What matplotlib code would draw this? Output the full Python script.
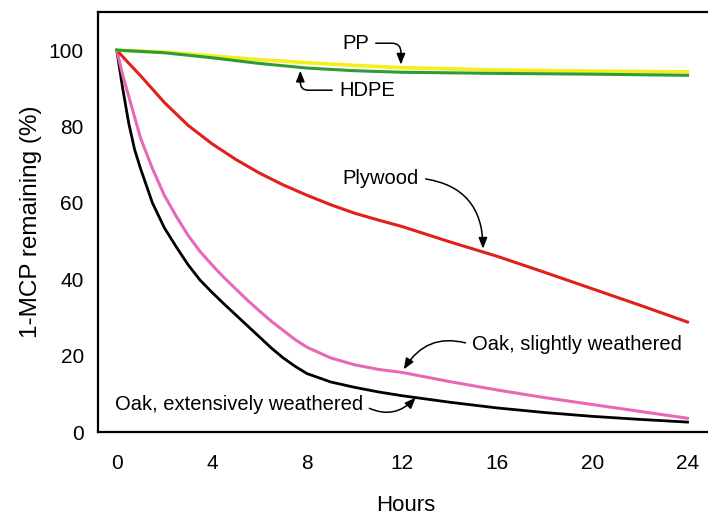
import numpy as np
import matplotlib.pyplot as plt

plt.rcParams['font.family'] = ['Liberation Sans', 'DejaVu Sans']

# hours and % 1-MCP remaining
hours_pe = [0, 2, 4, 6, 8, 10, 12, 16, 20, 24]
pp = [100, 99.5, 98.5, 97.5, 96.7, 96.0, 95.4, 94.8, 94.5, 94.3]
hdpe = [100, 99.3, 98.0, 96.5, 95.3, 94.6, 94.2, 93.9, 93.7, 93.4]

hours_ply = [0, 0.5, 1, 2, 3, 4, 5, 6, 7, 8, 9, 10, 11, 12, 14, 16, 18, 20, 22, 24]
plywood = [100, 96.6, 93.3, 86.3, 80.3, 75.5, 71.4, 67.8, 64.7, 62.0, 59.5, 57.3,
           55.5, 53.8, 49.8, 46.0, 41.8, 37.5, 33.2, 28.8]

hours_oak = [0, 0.25, 0.5, 0.75, 1, 1.5, 2, 2.5, 3, 3.5, 4, 4.5, 5, 5.5, 6, 6.5, 7, 7.5,
             8, 9, 10, 11, 12, 14, 16, 18, 20, 22, 24]
oak_slight = [100, 93.5, 88, 82.5, 77, 69, 62, 56.5, 51.5, 47.3, 43.8, 40.5, 37.5, 34.5,
              31.7, 29.0, 26.6, 24.2, 22.2, 19.4, 17.6, 16.4, 15.6, 13.2, 11.0, 9.0,
              7.2, 5.4, 3.6]
oak_ext = [100, 90, 81, 74, 69, 60, 53.5, 48.5, 43.8, 39.8, 36.6, 33.6, 30.7, 27.8,
           24.9, 22.0, 19.4, 17.2, 15.3, 13.1, 11.7, 10.5, 9.5, 7.8, 6.3, 5.1, 4.1,
           3.3, 2.6]

xticks = [0, 4, 8, 12, 16, 20, 24]
yticks = [0, 20, 40, 60, 80, 100]

fig = plt.figure(figsize=(7.08, 5.18), dpi=100)
ax = fig.add_axes([0.138, 0.166, 0.87, 0.811])

ax.plot(hours_oak, oak_ext, color='black', lw=2)
ax.plot(hours_oak, oak_slight, color='#e868b8', lw=2.2)
ax.plot(hours_ply, plywood, color='#e0201b', lw=2.2)
ax.plot(hours_pe, pp, color='#f4ee1c', lw=2.6)
ax.plot(hours_pe, hdpe, color='#2f9a3a', lw=2.2)

ax.set_xlim(-0.8, 25.1)
ax.set_ylim(0, 110)
ax.set_xticks(xticks)
ax.set_yticks(yticks)
ax.tick_params(length=0, labelsize=15)
ax.tick_params(axis='x', pad=16)
ax.tick_params(axis='y', pad=10)
for s in ['left', 'bottom', 'top']:
    ax.spines[s].set_linewidth(1.6)
ax.spines['right'].set_visible(False)

ax.set_xlabel('Hours', fontsize=16, labelpad=16)
ax.set_ylabel('1-MCP remaining (%)', fontsize=17.5)
ax.yaxis.set_label_coords(-0.09, 0.5)


def note(text, xy, xytext, ha, conn, relx):
    ax.annotate(text, xy=xy, xytext=xytext, ha=ha, va='center', fontsize=14.5,
                arrowprops=dict(arrowstyle='-|>,head_length=0.45,head_width=0.18',
                                color='black', lw=1.1, relpos=(relx, 0.5),
                                connectionstyle=conn, shrinkA=3, shrinkB=0))


note('PP', (11.95, 96.2), (10.6, 101.8), 'right', 'angle,angleA=0,angleB=90,rad=9', 1.0)
note('HDPE', (7.72, 94.6), (9.35, 89.5), 'left', 'angle,angleA=0,angleB=90,rad=8', 0.0)
note('Plywood', (15.4, 48.0), (12.7, 66.5), 'right', 'arc3,rad=-0.45', 1.0)
note('Oak, slightly weathered', (12.07, 16.4), (14.95, 22.8), 'left', 'arc3,rad=0.4', 0.0)
note('Oak, extensively weathered', (12.57, 9.0), (10.35, 7.1), 'right', 'arc3,rad=0.4', 1.0)

fig.savefig('out.png', dpi=100)
